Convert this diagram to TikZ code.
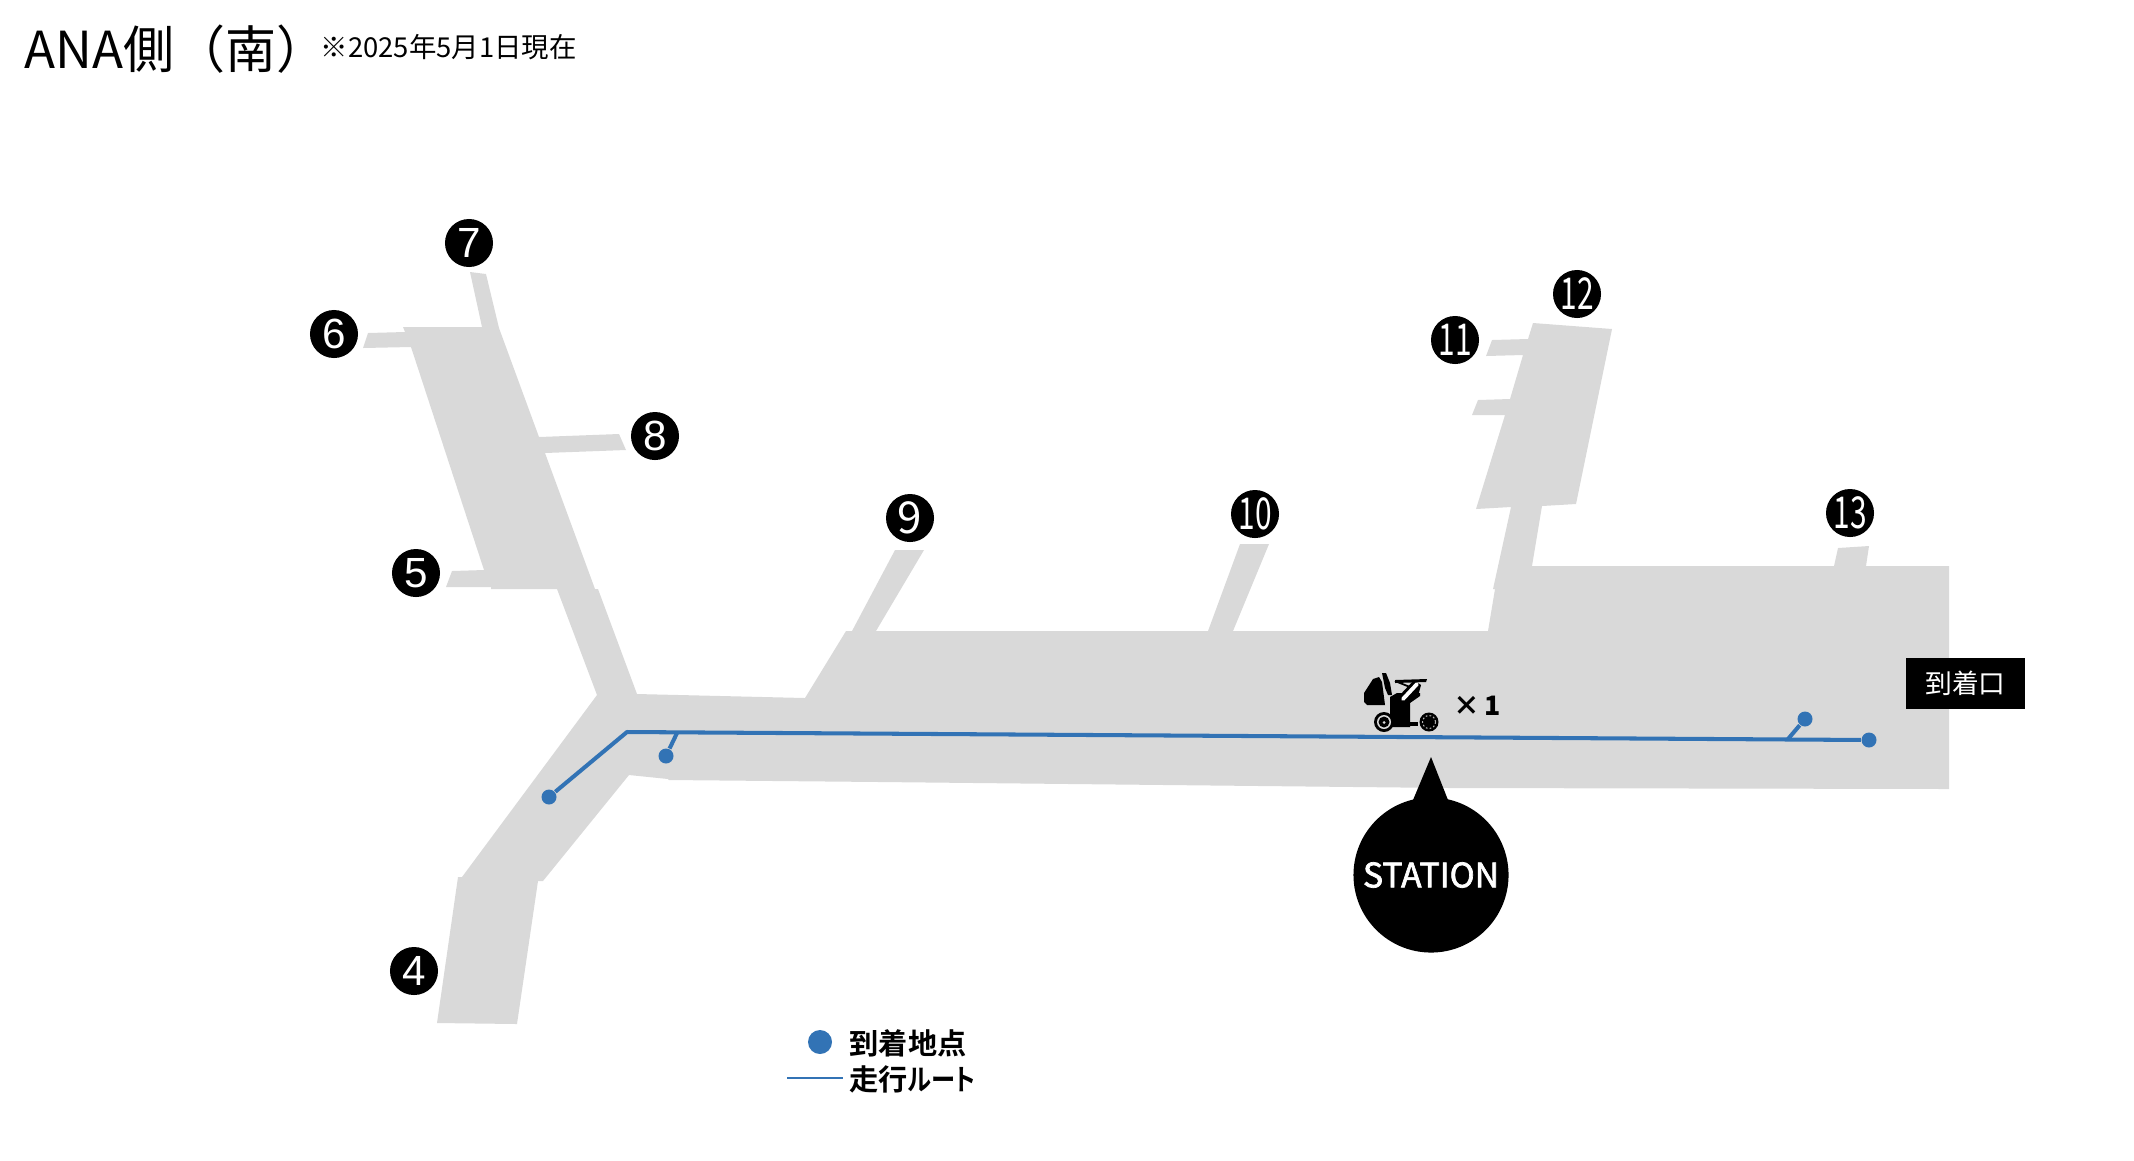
\documentclass[tikz,border=0pt]{standalone}
\usepackage{fontspec}
\setmainfont{Noto Sans CJK JP}
\newfontfamily\badgefont{Liberation Sans}
\newfontfamily\stationfont[FakeBold=2]{Noto Sans CJK JP}
\newfontfamily\legendfont[RawFeature=+palt]{Noto Sans CJK JP Bold}
\usepackage{xcolor}
\usetikzlibrary{calc, positioning}
\definecolor{floorGray}{HTML}{D9D9D9}
\definecolor{routeBlue}{HTML}{3273B5}
\tikzset{
    floor/.style={fill=floorGray, draw=none},
    badge/.style={circle, fill=black, text=white, minimum size=0.48cm, inner sep=0pt, font=\badgefont\fontsize{12}{12}\selectfont},
    badgeB/.style={badge, font=\rmfamily\fontsize{12.5}{12}\selectfont},
    route/.style={draw=routeBlue, line width=1.15pt, line join=round},
    stop/.style={circle, fill=routeBlue, inner sep=0pt, minimum size=0.15cm},
    tag/.style={fill=black, text=white, font=\fontsize{7.6}{8}\selectfont, minimum width=1.19cm, minimum height=0.51cm, inner sep=0pt},
    legend/.style={anchor=west, inner sep=0pt, font=\legendfont\fontsize{8.3}{9}\selectfont}
}
\begin{document}
\begin{tikzpicture}[x=0.01cm, y=-0.01cm]
    \useasboundingbox (0,0) rectangle (2134,1160);

    % Terminal floor
    \fill[floor] (470,272) -- (486,274) -- (499,328) -- (539,437) -- (619,434) -- (626,450) -- (545,453)
        -- (595,589) -- (598,589) -- (637,694) -- (805,698) -- (846,631) -- (852,631) -- (895,550) -- (924,550)
        -- (876,631) -- (1208,631) -- (1240,544) -- (1269,544) -- (1233,631) -- (1488,631) -- (1495,589)
        -- (1493,589) -- (1511,507) -- (1476,509) -- (1505,415) -- (1472,415) -- (1478,400) -- (1510,399)
        -- (1523,355) -- (1486,356) -- (1492,340) -- (1528,339) -- (1533,323) -- (1612,329) -- (1576,504)
        -- (1542,506) -- (1532,566) -- (1834,566) -- (1838,548) -- (1869,546) -- (1866,566) -- (1949,566)
        -- (1949,789) -- (1450,788) -- (880,782) -- (669,780) -- (668,779) -- (629,775) -- (543,881)
        -- (538,881) -- (517,1024) -- (437,1023) -- (458,877) -- (462,877) -- (597,695) -- (557,589)
        -- (491,589) -- (491,587) -- (446,587) -- (452,571) -- (484,570) -- (411,347) -- (363,348)
        -- (368,333) -- (405,332) -- (403,327) -- (482,327) -- cycle;

    % Gates
    \node[badge] (g4) at (414,971) {4};
    \node[badge] (g5) at (416,573) {5};
    \node[badge] (g6) at (334,334) {6};
    \node[badge] (g7) at (469,243) {7};
    \node[badge] (g8) at (655,436) {8};
    \node[badgeB] (g9) at (910,518) {9};
    \node[badgeB] (g10) at (1255,514) {\scalebox{0.68}[1]{10}};
    \node[badgeB] (g11) at (1455,340) {\scalebox{0.68}[1]{11}};
    \node[badgeB] (g12) at (1577,294) {\scalebox{0.68}[1]{12}};
    \node[badgeB] (g13) at (1850,513) {\scalebox{0.68}[1]{13}};

    % Route
    \node[stop] (stopA) at (549,797) {};
    \node[stop] (stopB) at (666,756) {};
    \node[stop] (stopC) at (1805,719) {};
    \node[stop] (stopD) at (1869,740) {};
    \coordinate (bend) at (627,732);
    \coordinate (forkB) at (677,733);
    \coordinate (forkC) at (1788,739);
    \draw[route] (stopA) -- (bend) -- (stopD);
    \draw[route] (stopB) -- (forkB);
    \draw[route] (stopC) -- (forkC);

    % Vehicle
    \fill (1364,693) -- (1373,679) -- (1379,677) -- (1382,682) -- (1385,705) -- (1367,705) -- (1364,702) -- cycle;
    \fill (1382,673) -- (1386,673) -- (1390,683) -- (1392,695) -- (1388,695) -- (1385,688) -- cycle;
    \fill (1390,697) -- (1397,693) -- (1420,693) -- (1420,696) -- (1410,703) -- (1410,727) -- (1390,727) -- cycle;
    \fill (1398,697) -- (1414,680) -- (1421,685) -- (1418,696) -- (1408,704) -- cycle;
    \fill (1395,680) -- (1427,679) -- (1426,682) -- (1395,683) -- cycle;
    \draw[line width=0.5pt] (1395,681) -- (1410,687);
    \fill (1395,722) -- (1418,722) -- (1418,726) -- (1395,726) -- cycle;
    \draw[white, line width=1.1pt, line cap=round] (1403,699) -- (1417,684);
    \fill (1384,722) circle (10);
    \fill[white!85!black] (1384,722) circle (7);
    \fill (1384,722) circle (5.5);
    \fill[white!85!black] (1384,722.5) circle (1.5);
    \fill (1429,722) circle (9.5);
    \draw[white!70!black, line width=0.3pt, dash pattern=on 0.5pt off 0.6pt] (1429,722) circle (6.5);
    \node[font=\fontsize{7.6}{8}\selectfont\bfseries, inner sep=0pt] (count) at (1477,706) {×\,1};

    % Station
    \fill (1431,757) -- (1448,800) -- (1413,800) -- cycle;
    \node[circle, fill=black, text=white, minimum size=1.55cm, inner sep=0pt, font=\stationfont\fontsize{9.6}{10}\selectfont] (station) at (1431,875) {STATION};

    % Arrival label
    \node[tag] (arrival) at (1965.5,683.5) {到着口};

    % Legend
    \node[stop, minimum size=0.24cm] (legendStop) at (820,1042) {};
    \coordinate (legendA) at (787,1078);
    \coordinate (legendB) at (843,1078);
    \draw[routeBlue, line width=0.45pt] (legendA) -- (legendB);
    \node[legend] (legendText1) at (849,1043) {到着地点};
    \node[legend] (legendText2) at (849,1079) {走行\scalebox{0.83}[1]{ルート}};

    % Title
    \node[anchor=base west, inner sep=0pt, font=\fontsize{14.5}{15}\selectfont] (title) at (24,68) {ANA側（南）};
    \node[anchor=base west, inner sep=0pt, font=\fontsize{7.8}{8}\selectfont] (asof) at (320,57) {※2025年5月1日現在};
\end{tikzpicture}
\end{document}
